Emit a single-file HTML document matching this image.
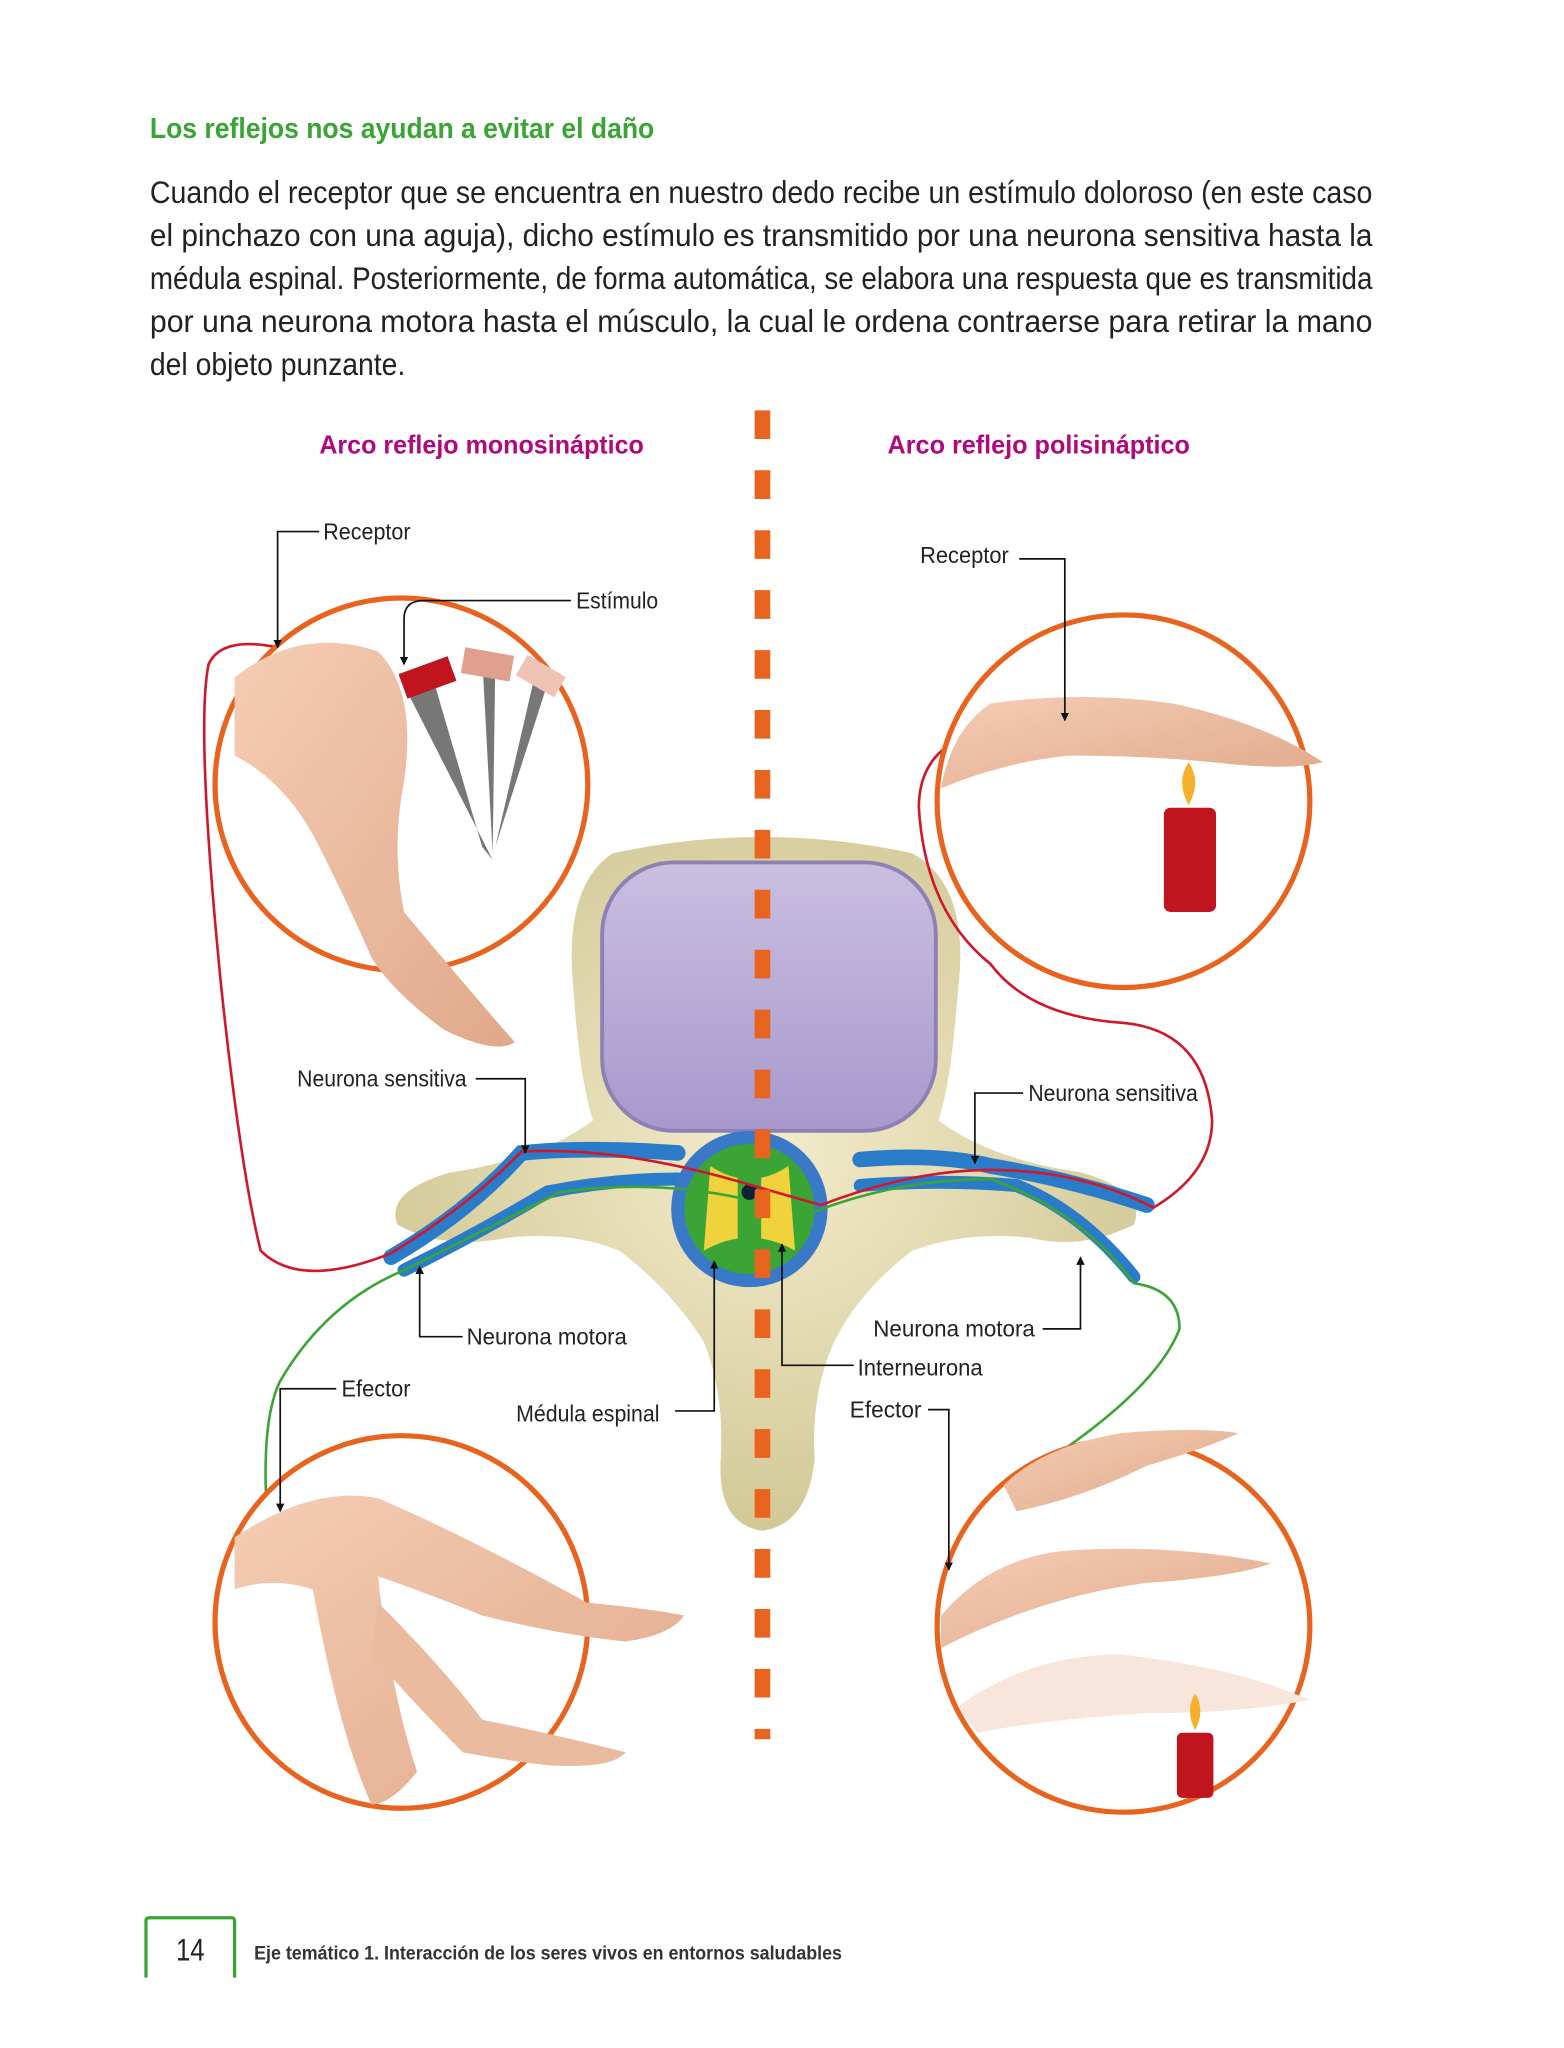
<!DOCTYPE html>
<html><head><meta charset="utf-8"><style>
html,body{margin:0;padding:0;background:#fff;}
svg{display:block;}
text{font-family:"Liberation Sans Narrow","Liberation Sans",sans-serif;}
</style></head><body>
<svg width="1564" height="2048" viewBox="0 0 1200 1572" preserveAspectRatio="none" xmlns="http://www.w3.org/2000/svg">
<defs>
<marker id="ar" viewBox="0 0 10 10" refX="9" refY="5" markerWidth="5" markerHeight="5" orient="auto"><path d="M0,0L10,5L0,10z" fill="#111"/></marker>
<radialGradient id="bone" cx="50%" cy="45%" r="60%"><stop offset="0" stop-color="#f3eccb"/><stop offset="1" stop-color="#cfc592"/></radialGradient>
<linearGradient id="body" x1="0" y1="0" x2="0" y2="1"><stop offset="0" stop-color="#c9bfe0"/><stop offset="1" stop-color="#a898cc"/></linearGradient>
<linearGradient id="skin" x1="0" y1="0" x2="1" y2="1"><stop offset="0" stop-color="#f5cdb4"/><stop offset="1" stop-color="#e0a88a"/></linearGradient>
</defs>

<text x="115" y="106" font-size="22" font-weight="bold" fill="#3aa535" textLength="387" lengthAdjust="spacingAndGlyphs">Los reflejos nos ayudan a evitar el daño</text>
<g font-size="24" fill="#222">
<text x="115" y="156" textLength="938" lengthAdjust="spacingAndGlyphs">Cuando el receptor que se encuentra en nuestro dedo recibe un estímulo doloroso (en este caso</text>
<text x="115" y="189" textLength="938" lengthAdjust="spacingAndGlyphs">el pinchazo con una aguja), dicho estímulo es transmitido por una neurona sensitiva hasta la</text>
<text x="115" y="222" textLength="938" lengthAdjust="spacingAndGlyphs">médula espinal. Posteriormente, de forma automática, se elabora una respuesta que es transmitida</text>
<text x="115" y="255" textLength="938" lengthAdjust="spacingAndGlyphs">por una neurona motora hasta el músculo, la cual le ordena contraerse para retirar la mano</text>
<text x="115" y="288" textLength="196" lengthAdjust="spacingAndGlyphs">del objeto punzante.</text>
</g>

<text x="245" y="348" font-size="20" font-weight="bold" fill="#b0087e" textLength="249" lengthAdjust="spacingAndGlyphs">Arco reflejo monosináptico</text>
<text x="681" y="348" font-size="20" font-weight="bold" fill="#b0087e" textLength="232" lengthAdjust="spacingAndGlyphs">Arco reflejo polisináptico</text>

<!-- vertebra -->
<path d="M470,655 Q585,630 700,655 Q745,680 735,760 Q730,830 720,860 Q760,890 830,900 Q880,915 870,940 Q830,960 790,950 Q740,945 700,960 Q660,990 640,1030 Q622,1070 625,1120 Q620,1170 585,1175 Q550,1170 553,1120 Q556,1070 540,1030 Q515,990 475,960 Q440,945 390,950 Q340,960 305,940 Q295,915 345,900 Q415,890 455,860 Q445,830 440,760 Q432,680 470,655Z" fill="url(#bone)"/>
<rect x="462" y="662" width="256" height="206" rx="55" fill="url(#body)" stroke="#8e80b5" stroke-width="3"/>
<path d="M300,965 Q360,930 400,885 Q450,880 520,885 M660,890 Q720,885 760,895 Q820,905 880,925" stroke="#2b7cc8" stroke-width="12" fill="none" stroke-linecap="round"/>
<path d="M310,975 Q370,945 420,915 Q470,905 520,905 M660,910 Q720,905 780,910 Q830,930 870,980" stroke="#2b7cc8" stroke-width="10" fill="none" stroke-linecap="round"/>
<circle cx="575" cy="928" r="60" fill="#3a78c8"/>
<circle cx="575" cy="928" r="50" fill="#3aa535"/>
<path d="M545,895 Q575,915 605,895 L610,960 Q575,940 540,960Z" fill="#f0d23c"/>
<rect x="566" y="900" width="18" height="60" fill="#3aa535"/>
<circle cx="575" cy="915" r="6" fill="#123"/>
<path d="M213,497 Q170,488 160,510 Q150,560 170,760 Q185,900 200,960 Q230,990 300,962 Q360,925 400,884 Q470,880 560,905 L630,925" stroke="#d0182c" stroke-width="2" fill="none"/>
<path d="M630,925 Q700,898 760,898 Q830,898 885,927 Q930,900 930,860 Q925,790 860,785 Q790,780 760,740 Q710,700 705,620 Q705,570 760,560 L885,565" stroke="#d0182c" stroke-width="2" fill="none"/>
<path d="M205,1165 Q200,1090 215,1060 Q250,1000 310,975 Q380,940 430,915 Q500,905 570,920 M625,930 Q690,905 760,905 Q830,930 870,985 Q905,990 905,1020 Q890,1060 820,1110 Q760,1160 728,1200" stroke="#3aa535" stroke-width="2" fill="none"/>

<line x1="585" y1="315" x2="585" y2="1335" stroke="#e8641e" stroke-width="12" stroke-dasharray="22,24"/>

<g stroke="#e8641e" stroke-width="4" fill="#fff">
<circle cx="308" cy="602" r="143"/><circle cx="862" cy="615" r="143"/>
<circle cx="308" cy="1245" r="143"/><circle cx="862" cy="1248" r="143"/>
</g>
<path d="M180,520 Q230,480 290,500 Q320,530 310,600 Q300,650 310,700 Q360,760 395,800 Q380,810 340,790 Q300,760 285,735 Q270,700 245,650 Q220,600 180,580Z" fill="url(#skin)"/>
<path d="M312,530 L332,520 L370,650 L378,660Z M370,505 L380,510 L378,655Z M410,520 L420,525 L380,650Z" fill="#777"/>
<rect x="308" y="510" width="40" height="20" fill="#c0141e" transform="rotate(-20 328 520)"/>
<rect x="355" y="500" width="38" height="20" fill="#e0a090" transform="rotate(10 374 510)"/>
<rect x="398" y="510" width="34" height="18" fill="#efc4b4" transform="rotate(30 415 519)"/>
<path d="M722,605 Q730,560 760,540 Q830,530 900,540 Q970,555 1015,585 Q990,592 930,585 Q880,580 820,580 Q770,585 722,605Z" fill="url(#skin)"/>
<rect x="893" y="620" width="40" height="80" rx="5" fill="#c0141e"/>
<path d="M912,618 Q902,600 912,585 Q922,600 912,618Z" fill="#f6b02a"/>
<path d="M180,1180 Q240,1140 290,1150 Q360,1180 450,1230 Q500,1235 525,1240 Q515,1255 480,1260 Q430,1255 370,1240 Q320,1220 290,1210 Q300,1300 320,1360 Q300,1385 285,1385 Q260,1330 240,1220 Q210,1210 180,1220Z" fill="url(#skin)"/>
<path d="M290,1230 Q340,1280 370,1320 Q420,1330 480,1345 Q470,1358 420,1355 Q380,1350 355,1345 Q320,1310 285,1270Z" fill="#ebbba0"/>
<path d="M770,1140 Q800,1110 860,1100 Q920,1095 950,1100 Q930,1110 880,1125 Q830,1150 780,1160Z" fill="url(#skin)"/>
<path d="M722,1240 Q760,1195 820,1190 Q900,1185 975,1200 Q950,1210 880,1215 Q800,1225 722,1265Z" fill="url(#skin)"/>
<path d="M735,1310 Q790,1270 860,1270 Q950,1280 1005,1305 Q950,1315 880,1315 Q800,1320 750,1330Z" fill="#f8e6dc"/>
<rect x="903" y="1330" width="28" height="50" rx="4" fill="#c0141e"/>
<path d="M917,1328 Q909,1313 917,1300 Q925,1313 917,1328Z" fill="#f6b02a"/>

<g stroke="#111" stroke-width="1.3" fill="none">
<path d="M245,408 L213,408 L213,497" marker-end="url(#ar)"/>
<path d="M438,461 L325,461 Q310,461 310,475 L310,510" marker-end="url(#ar)"/>
<path d="M365,828 L403,828 L403,885" marker-end="url(#ar)"/>
<path d="M355,1026 L322,1026 L322,972" marker-end="url(#ar)"/>
<path d="M258,1066 L215,1066 L215,1160" marker-end="url(#ar)"/>
<path d="M518,1083 L548,1083 L548,968" marker-end="url(#ar)"/>
<path d="M782,429 L817,429 L817,553" marker-end="url(#ar)"/>
<path d="M785,839 L748,839 L748,893" marker-end="url(#ar)"/>
<path d="M800,1020 L829,1020 L829,965" marker-end="url(#ar)"/>
<path d="M655,1048 L600,1048 L600,955" marker-end="url(#ar)"/>
<path d="M712,1082 L728,1082 L728,1205" marker-end="url(#ar)"/>
</g>
<g font-size="18" fill="#222" lengthAdjust="spacingAndGlyphs">
<text x="248" y="414" textLength="67" lengthAdjust="spacingAndGlyphs">Receptor</text>
<text x="442" y="467" textLength="63" lengthAdjust="spacingAndGlyphs">Estímulo</text>
<text x="228" y="834" textLength="130" lengthAdjust="spacingAndGlyphs">Neurona sensitiva</text>
<text x="358" y="1032" textLength="123" lengthAdjust="spacingAndGlyphs">Neurona motora</text>
<text x="262" y="1072" textLength="53" lengthAdjust="spacingAndGlyphs">Efector</text>
<text x="396" y="1091" textLength="110" lengthAdjust="spacingAndGlyphs">Médula espinal</text>
<text x="706" y="432" textLength="68" lengthAdjust="spacingAndGlyphs">Receptor</text>
<text x="789" y="845" textLength="130" lengthAdjust="spacingAndGlyphs">Neurona sensitiva</text>
<text x="670" y="1026" textLength="124" lengthAdjust="spacingAndGlyphs">Neurona motora</text>
<text x="658" y="1056" textLength="96" lengthAdjust="spacingAndGlyphs">Interneurona</text>
<text x="652" y="1088" textLength="55" lengthAdjust="spacingAndGlyphs">Efector</text>
</g>

<path d="M112,1518 L112,1474 Q112,1472 115,1472 L178,1472 Q180,1472 180,1475 L180,1518" stroke="#3aa535" stroke-width="2.5" fill="none"/>
<text x="146" y="1505" font-size="24" fill="#222" text-anchor="middle" textLength="22" lengthAdjust="spacingAndGlyphs">14</text>
<text x="195" y="1504" font-size="15" font-weight="bold" fill="#333" textLength="451" lengthAdjust="spacingAndGlyphs">Eje temático 1. Interacción de los seres vivos en entornos saludables</text>
</svg>
</body></html>
